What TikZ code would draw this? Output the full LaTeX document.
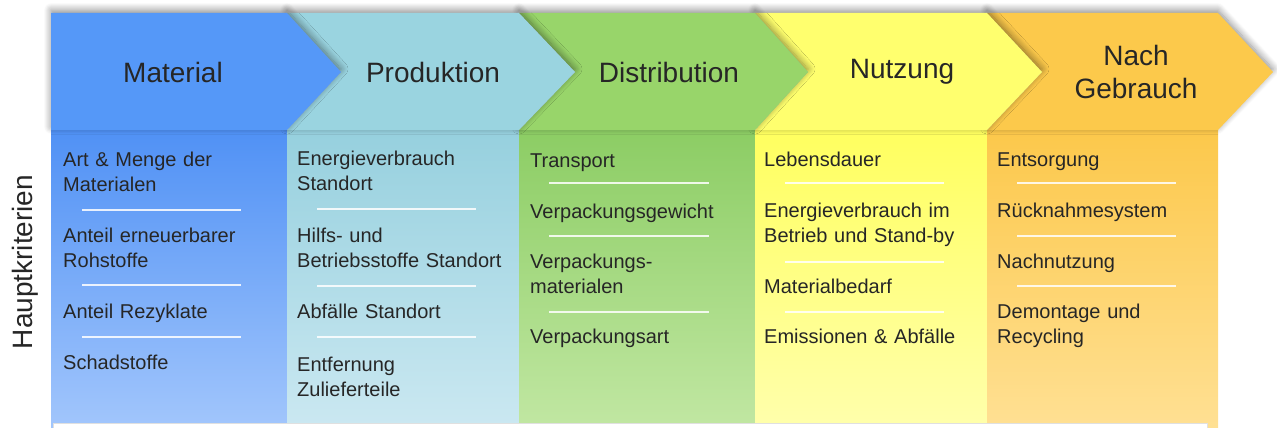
\documentclass[tikz,border=0pt]{standalone}
\usepackage{fontspec}
\setmainfont{Liberation Sans}
\usetikzlibrary{shadows.blur}

\definecolor{matBlue}{RGB}{85,152,248}
\definecolor{proCyan}{RGB}{154,212,224}
\definecolor{disGreen}{RGB}{152,213,106}
\definecolor{nutYellow}{RGB}{255,255,110}
\definecolor{nachOrange}{RGB}{252,201,75}
\definecolor{matTop}{RGB}{80,145,245}
\definecolor{matBot}{RGB}{165,200,252}
\definecolor{proTop}{RGB}{150,208,222}
\definecolor{proBot}{RGB}{205,233,242}
\definecolor{disTop}{RGB}{140,205,100}
\definecolor{disBot}{RGB}{195,232,165}
\definecolor{nutTop}{RGB}{255,255,95}
\definecolor{nutBot}{RGB}{255,255,175}
\definecolor{nachTop}{RGB}{252,200,75}
\definecolor{nachBot}{RGB}{255,225,150}

\tikzset{
  chev/.style={blur shadow={shadow xshift=0pt, shadow yshift=3pt, shadow blur radius=7pt, shadow blur steps=10, shadow opacity=45}},
  head/.style={font=\fontsize{28}{33}\selectfont, align=center, text=black!85},
  crit/.style={font=\fontsize{20}{25}\selectfont, text width=225pt, align=left, inner sep=0pt, anchor=base west, text=black!85},
  trenner/.style={white, line width=1.6pt, opacity=.85},
}

\begin{document}
\begin{tikzpicture}[x=1pt, y=-1pt]
\useasboundingbox (0,0) rectangle (1277,428);

% Spalten
\shade[top color=matTop, bottom color=matBot] (51,130) rectangle (287,440);
\shade[top color=proTop, bottom color=proBot] (287,130) rectangle (519,440);
\shade[top color=disTop, bottom color=disBot] (519,130) rectangle (755,440);
\shade[top color=nutTop, bottom color=nutBot] (755,130) rectangle (987,440);
\shade[top color=nachTop, bottom color=nachBot] (987,130) rectangle (1218,440);
\filldraw[fill=white, draw=black!12] (53,423) rectangle (1207,445);

% Pfeile, von hinten nach vorne
\fill[nachOrange, chev] (987,13) -- (1218,13) -- (1273,72) -- (1218,130) -- (987,130) -- (1042,72) -- cycle;
\fill[nutYellow, chev] (755,13) -- (987,13) -- (1042,72) -- (987,130) -- (755,130) -- (808,72) -- cycle;
\fill[disGreen, chev] (519,13) -- (755,13) -- (808,72) -- (755,130) -- (519,130) -- (575,72) -- cycle;
\fill[proCyan, chev] (287,13) -- (519,13) -- (575,72) -- (519,130) -- (287,130) -- (341,72) -- cycle;
\fill[matBlue, chev] (51,13) -- (287,13) -- (341,72) -- (287,130) -- (51,130) -- cycle;

\node[head] (hmat) at (173,72) {Material};
\node[head] (hpro) at (433,72) {Produktion};
\node[head] (hdis) at (669,72) {Distribution};
\node[head] (hnut) at (902,72) {Nutzung};
\node[head] (hnach) at (1136,72) {Nach\\Gebrauch};

\node[font=\fontsize{28}{33}\selectfont, rotate=90, text=black!85] (haupt) at (25,262) {Hauptkriterien};

% Material
\node[crit] (mat1) at (63,166) {Art \& Menge der\\Materialen};
\node[crit] (mat2) at (63,242) {Anteil erneuerbarer\\Rohstoffe};
\node[crit] (mat3) at (63,318) {Anteil Rezyklate};
\node[crit] (mat4) at (63,369) {Schadstoffe};
\draw[trenner] (82,210) -- (241,210);
\draw[trenner] (82,285) -- (241,285);
\draw[trenner] (82,337) -- (241,337);

% Produktion
\node[crit] (pro1) at (297,165) {Energieverbrauch\\Standort};
\node[crit] (pro2) at (297,242) {Hilfs- und\\Betriebsstoffe Standort};
\node[crit] (pro3) at (297,318) {Abfälle Standort};
\node[crit] (pro4) at (297,371) {Entfernung\\Zulieferteile};
\draw[trenner] (317,209) -- (476,209);
\draw[trenner] (317,286) -- (476,286);
\draw[trenner] (317,337) -- (476,337);

% Distribution
\node[crit] (dis1) at (530,167) {Transport};
\node[crit] (dis2) at (530,218) {Verpackungsgewicht};
\node[crit] (dis3) at (530,268) {Verpackungs-\\materialen};
\node[crit] (dis4) at (530,343) {Verpackungsart};
\draw[trenner] (549,183) -- (709,183);
\draw[trenner] (549,236) -- (709,236);
\draw[trenner] (549,312) -- (709,312);

% Nutzung
\node[crit] (nut1) at (764,166) {Lebensdauer};
\node[crit] (nut2) at (764,217) {Energieverbrauch im\\Betrieb und Stand-by};
\node[crit] (nut3) at (764,293) {Materialbedarf};
\node[crit] (nut4) at (764,343) {Emissionen \& Abfälle};
\draw[trenner] (785,183) -- (944,183);
\draw[trenner] (785,262) -- (944,262);
\draw[trenner] (785,312) -- (944,312);

% Nach Gebrauch
\node[crit] (nach1) at (997,166) {Entsorgung};
\node[crit] (nach2) at (997,217) {Rücknahmesystem};
\node[crit] (nach3) at (997,268) {Nachnutzung};
\node[crit] (nach4) at (997,318) {Demontage und\\Recycling};
\draw[trenner] (1017,183) -- (1176,183);
\draw[trenner] (1017,236) -- (1176,236);
\draw[trenner] (1017,286) -- (1176,286);
\end{tikzpicture}
\end{document}
